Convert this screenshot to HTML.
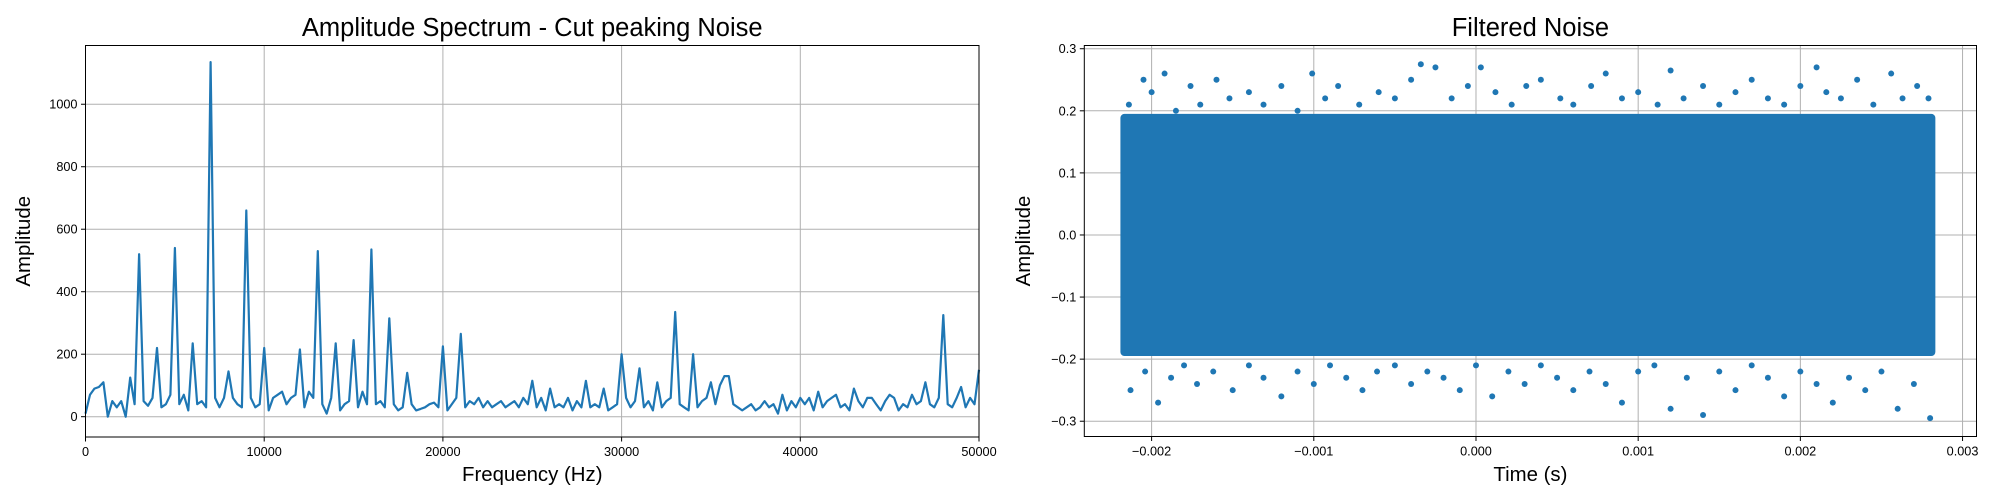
<!DOCTYPE html>
<html><head><meta charset="utf-8"><style>
html,body{margin:0;padding:0;background:#fff;}
svg{display:block;font-family:"Liberation Sans","DejaVu Sans",sans-serif;}
</style></head><body>
<svg id="fig" width="2000" height="500" viewBox="0 0 2000 500">
<rect width="2000" height="500" fill="#fff"/>
<g id="left"></g>
<g id="right"></g>
</svg>
<script>
// ---- Left chart data ----
const specStep = 250;
const specAmp = [
10,70,90,95, 110,0,50,30, 50,0,125,40, 520,50,35,60, 220,30,40,70,
540,40,70,20, 235,40,50,30, 1135,60,30,60, 145,60,40,30, 660,60,30,40,
220,20,60,70, 80,40,60,70, 215,30,80,60, 530,40,10,60, 235,20,40,50,
245,30,80,40, 535,40,50,30, 315,40,20,30, 140,40,20,25, 30,40,45,30,
225,20,40,60, 265,30,50,40, 60,30,50,30, 40,50,30,40, 50,30,60,40,
115,30,60,20, 90,30,40,30, 60,20,50,30, 115,30,40,30, 90,20,30,40,
200,60,30,50, 155,30,50,20, 110,30,50,60, 335,40,30,20, 200,30,50,60,
110,40,100,130, 130,40,30,20, 30,40,20,30, 50,30,40,10, 70,20,50,30,
60,40,60,20, 80,30,50,60, 70,30,40,20, 90,50,30,60, 60,40,20,50,
70,60,20,40, 30,70,40,50, 110,40,30,60, 325,40,30,60, 95,30,60,40,
150];
const specXTicks = [0,10000,20000,30000,40000,50000];
const specYTicks = [0,200,400,600,800,1000];

// ---- Right chart data ----
const noiseTStart = -0.00218, noiseTEnd = 0.00282;
const noiseCoreTop = 0.195, noiseCoreBottom = -0.195;
const noiseTopT = [-0.00214,-0.00205,-0.0020,-0.00192,-0.00185,-0.00176,-0.0017,-0.00160,-0.00152,-0.00140,-0.00131,-0.00120,-0.00110,-0.00101,-0.00093,-0.00085,-0.00072,-0.00060,-0.00050,-0.00040,-0.00034,-0.00025,-0.00015,-0.00005,0.00003,0.00012,0.00022,0.00031,0.00040,0.00052,0.00060,0.00071,0.00080,0.00090,0.00100,0.00112,0.00120,0.00128,0.00140,0.00150,0.00160,0.00170,0.00180,0.00190,0.00200,0.00210,0.00216,0.00225,0.00235,0.00245,0.00256,0.00263,0.00272,0.00279];
const noiseTopV = [0.21,0.25,0.23,0.26,0.20,0.24,0.21,0.25,0.22,0.23,0.21,0.24,0.20,0.26,0.22,0.24,0.21,0.23,0.22,0.25,0.275,0.27,0.22,0.24,0.27,0.23,0.21,0.24,0.25,0.22,0.21,0.24,0.26,0.22,0.23,0.21,0.265,0.22,0.24,0.21,0.23,0.25,0.22,0.21,0.24,0.27,0.23,0.22,0.25,0.21,0.26,0.22,0.24,0.22];
const noiseBotT = [-0.00213,-0.00204,-0.00196,-0.00188,-0.00180,-0.00172,-0.00162,-0.00150,-0.00140,-0.00131,-0.00120,-0.00110,-0.00100,-0.00090,-0.00080,-0.00070,-0.00061,-0.00050,-0.00040,-0.00030,-0.00020,-0.00010,0.00000,0.00010,0.00020,0.00030,0.00040,0.00050,0.00060,0.00070,0.00080,0.00090,0.00100,0.00110,0.00120,0.00130,0.00140,0.00150,0.00160,0.00170,0.00180,0.00190,0.00200,0.00210,0.00220,0.00230,0.00240,0.00250,0.00260,0.00270,0.00280];
const noiseBotV = [-0.25,-0.22,-0.27,-0.23,-0.21,-0.24,-0.22,-0.25,-0.21,-0.23,-0.26,-0.22,-0.24,-0.21,-0.23,-0.25,-0.22,-0.21,-0.24,-0.22,-0.23,-0.25,-0.21,-0.26,-0.22,-0.24,-0.21,-0.23,-0.25,-0.22,-0.24,-0.27,-0.22,-0.21,-0.28,-0.23,-0.29,-0.22,-0.25,-0.21,-0.23,-0.26,-0.22,-0.24,-0.27,-0.23,-0.25,-0.22,-0.28,-0.24,-0.295];
const noiseXTicks = [-0.002,-0.001,0,0.001,0.002,0.003];
const noiseYTicks = [-0.3,-0.2,-0.1,0,0.1,0.2,0.3];

const NS = "http://www.w3.org/2000/svg";
function mk(tag, attrs, parent){const e=document.createElementNS(NS,tag);for(const k in attrs)e.setAttribute(k,attrs[k]);parent.appendChild(e);return e;}
const C = "#1f77b4";

// ===== Left chart =====
(function(){
  const g=document.getElementById('left');
  const L=85.5,R=979,T=45.5,B=437;
  const xmin=0,xmax=50000,ymin=-65,ymax=1188;
  const sx=v=>L+(v-xmin)/(xmax-xmin)*(R-L);
  const sy=v=>B-(v-ymin)/(ymax-ymin)*(B-T);
  specXTicks.forEach(v=>{
    const x=sx(v);
    const gl=mk('line',{x1:x,x2:x,y1:T,y2:B,stroke:'#b0b0b0','stroke-width':1},g);
    
    
    mk('line',{x1:x,x2:x,y1:B,y2:B+4.5,stroke:'#000','stroke-width':1},g);
    const t=mk('text',{x:x,y:B+19,'font-size':12.7,'text-anchor':'middle',fill:'#000'},g);
    t.textContent=String(v);
    
    
  });
  specYTicks.forEach(v=>{
    const y=sy(v);
    const gl=mk('line',{x1:L,x2:R,y1:y,y2:y,stroke:'#b0b0b0','stroke-width':1},g);
    
    
    mk('line',{x1:L-4.5,x2:L,y1:y,y2:y,stroke:'#000','stroke-width':1},g);
    const t=mk('text',{x:L-8,y:y+4.5,'font-size':12.7,'text-anchor':'end',fill:'#000'},g);
    t.textContent=String(v);
    
    
  });
  let d='';
  specAmp.forEach((a,i)=>{d+=(i?'L':'M')+sx(i*specStep).toFixed(1)+','+sy(a).toFixed(1);});
  const p=mk('path',{d:d,fill:'none',stroke:C,'stroke-width':2.2,'stroke-linejoin':'round'},g);
  
  
  const fr=mk('rect',{x:L,y:T,width:R-L,height:B-T,fill:'none',stroke:'#000','stroke-width':1},g);
  
  
  const tt=mk('text',{x:(L+R)/2,y:36,'font-size':25.5,'text-anchor':'middle',fill:'#000'},g);
  tt.textContent='Amplitude Spectrum - Cut peaking Noise';
  
  
  const xl=mk('text',{x:(L+R)/2,y:481,'font-size':20.4,'text-anchor':'middle',fill:'#000'},g);
  xl.textContent='Frequency (Hz)';
  
  
  const yl=mk('text',{x:0,y:0,'font-size':20.4,'text-anchor':'middle',fill:'#000',transform:`translate(30,${(T+B)/2}) rotate(-90)`},g);
  yl.textContent='Amplitude';
  
  
})();

// ===== Right chart =====
(function(){
  const g=document.getElementById('right');
  const L=1084.3,R=1976.5,T=45.5,B=436.5;
  const xmin=-0.002415,xmax=0.003086,ymin=-0.3246,ymax=0.3052;
  const sx=v=>L+(v-xmin)/(xmax-xmin)*(R-L);
  const sy=v=>B-(v-ymin)/(ymax-ymin)*(B-T);
  noiseXTicks.forEach(v=>{
    const x=sx(v);
    const gl=mk('line',{x1:x,x2:x,y1:T,y2:B,stroke:'#b0b0b0','stroke-width':1},g);
    
    
    mk('line',{x1:x,x2:x,y1:B,y2:B+4.5,stroke:'#000','stroke-width':1},g);
    const t=mk('text',{x:x,y:B+19,'font-size':12.7,'text-anchor':'middle',fill:'#000'},g);
    t.textContent=(v<0?'\u2212':'')+Math.abs(v).toFixed(3);
    
    
  });
  noiseYTicks.forEach(v=>{
    const y=sy(v);
    const gl=mk('line',{x1:L,x2:R,y1:y,y2:y,stroke:'#b0b0b0','stroke-width':1},g);
    
    
    mk('line',{x1:L-4.5,x2:L,y1:y,y2:y,stroke:'#000','stroke-width':1},g);
    const t=mk('text',{x:L-8,y:y+4.5,'font-size':12.7,'text-anchor':'end',fill:'#000'},g);
    t.textContent=(v<0?'\u2212':'')+Math.abs(v).toFixed(1);
    
    
  });
  const core=mk('rect',{x:sx(noiseTStart)-2,y:sy(noiseCoreTop),width:sx(noiseTEnd)-sx(noiseTStart)+4,height:sy(noiseCoreBottom)-sy(noiseCoreTop),fill:C,rx:4},g);
  
  
  noiseTopT.forEach((t,i)=>{
    const c=mk('circle',{cx:sx(t),cy:sy(noiseTopV[i]),r:3,fill:C},g);
    
    
  });
  noiseBotT.forEach((t,i)=>{
    const c=mk('circle',{cx:sx(t),cy:sy(noiseBotV[i]),r:3,fill:C},g);
    
    
  });
  const fr=mk('rect',{x:L,y:T,width:R-L,height:B-T,fill:'none',stroke:'#000','stroke-width':1},g);
  
  
  const tt=mk('text',{x:(L+R)/2,y:36,'font-size':25.5,'text-anchor':'middle',fill:'#000'},g);
  tt.textContent='Filtered Noise';
  
  
  const xl=mk('text',{x:(L+R)/2,y:481,'font-size':20.4,'text-anchor':'middle',fill:'#000'},g);
  xl.textContent='Time (s)';
  
  
  const yl=mk('text',{x:0,y:0,'font-size':20.4,'text-anchor':'middle',fill:'#000',transform:`translate(1030,${(T+B)/2}) rotate(-90)`},g);
  yl.textContent='Amplitude';
  
  
})();
</script>
</body></html>
